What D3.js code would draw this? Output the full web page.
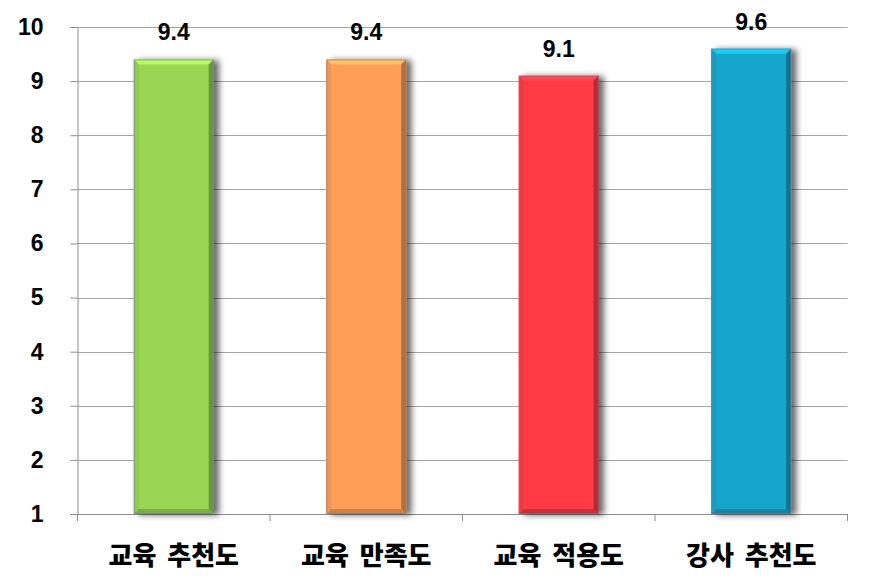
<!DOCTYPE html>
<html><head><meta charset="utf-8">
<script src="https://cdn.jsdelivr.net/npm/d3@7"></script>
<style>body{margin:0;background:#fff}svg{display:block}</style>
</head><body>
<svg id="c" width="871" height="588"></svg>
<script>
const categories = ["교육 추천도","교육 만족도","교육 적용도","강사 추천도"];
const values = [9.4, 9.4, 9.1, 9.6];
const valueLabels = ["9.4","9.4","9.1","9.6"];
const colors = ["#99D653","#FF9E56","#FF3A45","#17A6CB"];
const yTicks = [1,2,3,4,5,6,7,8,9,10];

(function(){
const svg = d3.select("#c");
const pL = 77.5, pR = 847.5, pT = 27, pB = 514;
const font = "'Noto Sans CJK KR', 'Noto Sans', sans-serif";
const numFont = "'Liberation Sans', Arial, sans-serif";

const x = d3.scaleBand().domain(categories).range([pL, pR]).paddingInner(0.585).paddingOuter(0.2925);
const xOuter = d3.scaleBand().domain(categories).range([pL, pR]);
const y = d3.scaleLinear().domain([1,10]).range([pB, pT]);

const defs = svg.append("defs");
const f = defs.append("filter").attr("id","sh").attr("x","-20%").attr("y","-10%").attr("width","150%").attr("height","120%");
f.append("feGaussianBlur").attr("in","SourceAlpha").attr("stdDeviation",3).attr("result","b");
f.append("feOffset").attr("in","b").attr("dx",5).attr("dy",1).attr("result","o");
f.append("feComponentTransfer").attr("in","o").attr("result","o2").append("feFuncA").attr("type","linear").attr("slope",0.6);
const fm = f.append("feMerge");
fm.append("feMergeNode").attr("in","o2");
fm.append("feMergeNode").attr("in","SourceGraphic");

// gridlines
svg.append("g").selectAll("line").data(yTicks.slice(1)).join("line")
  .attr("x1", pL).attr("x2", pR)
  .attr("y1", d => Math.round(y(d))+0.5).attr("y2", d => Math.round(y(d))+0.5)
  .attr("stroke","#a6a6a6").attr("stroke-width",1);

// y axis
const yAxis = svg.append("g").attr("transform",`translate(${pL},0)`)
  .call(d3.axisLeft(y).tickValues(yTicks).tickSize(7).tickPadding(27).tickFormat(d3.format("d")));
yAxis.select(".domain").attr("stroke","#8c8c8c");
yAxis.selectAll(".tick line").attr("stroke","#8c8c8c");
yAxis.selectAll(".tick text").attr("font-family",numFont).attr("font-size",23).attr("font-weight","bold").attr("fill","#000");

// x axis
const xAxis = svg.append("g").attr("transform",`translate(0,${pB})`)
  .call(d3.axisBottom(xOuter).tickSize(0).tickPadding(0).tickFormat(""));
xAxis.select(".domain").attr("stroke","#8c8c8c");
xAxis.selectAll(".tick").remove();
const bounds = [pL].concat(categories.map(c => xOuter(c)+xOuter.bandwidth()));
xAxis.selectAll("line.tk").data(bounds).join("line").attr("class","tk")
  .attr("x1",d=>d).attr("x2",d=>d).attr("y1",0).attr("y2",7).attr("stroke","#8c8c8c");
xAxis.selectAll("text.lb").data(categories).join("text").attr("class","lb")
  .attr("x", d => xOuter(d)+xOuter.bandwidth()/2).attr("y", 51)
  .attr("text-anchor","middle").attr("font-family",font).attr("font-size",26).attr("font-weight",900)
  .attr("word-spacing",5).attr("fill","#000")
  .text(d=>d);

// bars with bevel
const bevel = 5;
const bars = svg.append("g").selectAll("g").data(categories).join("g").attr("filter","url(#sh)");
bars.each(function(c, i){
  const g = d3.select(this);
  const x0 = x(c), x1 = x(c)+x.bandwidth(), y0 = y(values[i]), y1 = y(1);
  const col = d3.color(colors[i]);
  g.append("rect").attr("x",x0).attr("y",y0).attr("width",x1-x0).attr("height",y1-y0).attr("fill",colors[i]);
  g.append("polygon").attr("points",[[x0,y0],[x1,y0],[x1-bevel,y0+bevel],[x0+bevel,y0+bevel]].join(" "))
    .attr("fill", col.brighter(0.6)).attr("opacity",0.9);
  g.append("polygon").attr("points",[[x0,y0],[x0+bevel,y0+bevel],[x0+bevel,y1-bevel],[x0,y1]].join(" "))
    .attr("fill", col.darker(0.15));
  g.append("polygon").attr("points",[[x1,y0],[x1,y1],[x1-bevel,y1-bevel],[x1-bevel,y0+bevel]].join(" "))
    .attr("fill", col.darker(1.0));
  g.append("polygon").attr("points",[[x0,y1],[x1,y1],[x1-bevel,y1-bevel],[x0+bevel,y1-bevel]].join(" "))
    .attr("fill", col.darker(0.6));
  g.append("rect").attr("x",x0+0.5).attr("y",y0+0.5).attr("width",x1-x0-1).attr("height",y1-y0-1)
    .attr("fill","none").attr("stroke","#6f7f9a").attr("stroke-opacity",0.6).attr("stroke-width",1);
});

// value labels
svg.append("g").selectAll("text").data(categories).join("text")
  .attr("x", c => x(c)+x.bandwidth()/2)
  .attr("y", (c,i) => y(values[i]) - 19)
  .attr("text-anchor","middle").attr("font-family",numFont).attr("font-size",23).attr("font-weight","bold").attr("fill","#000")
  .text((c,i)=>valueLabels[i]);
})();
</script>
</body></html>
